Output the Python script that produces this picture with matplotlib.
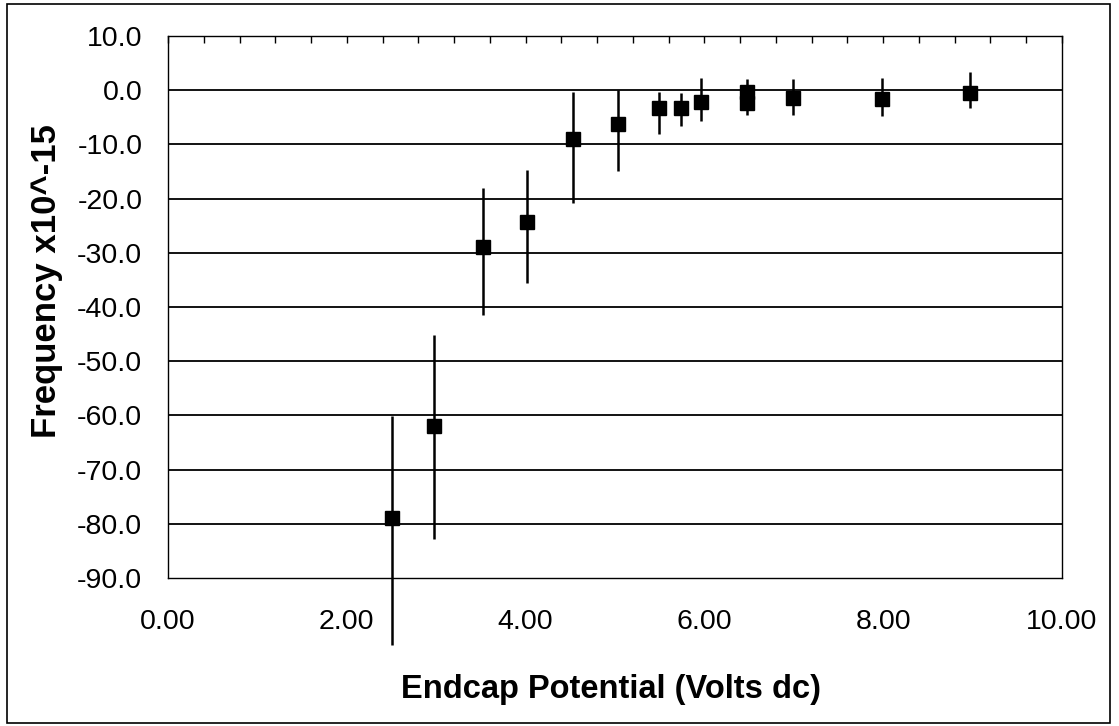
import matplotlib
matplotlib.use("Agg")
import matplotlib.pyplot as plt
from matplotlib.patches import Rectangle
from matplotlib.ticker import MultipleLocator
import numpy as np

plt.rcParams["font.family"] = ["Liberation Sans", "DejaVu Sans"]
plt.rcParams["axes.unicode_minus"] = False

# endcap potential (V dc) and frequency shift (x10^-15)
volts = [2.50, 2.98, 3.52, 4.02, 4.53, 5.03, 5.49, 5.74, 5.96, 6.48, 6.48, 6.99, 7.99, 8.97]
freq = [-79.0, -61.9, -29.0, -24.3, -9.0, -6.2, -3.2, -3.3, -2.1, -0.3, -2.4, -1.4, -1.6, -0.6]
# error bar ends
freq_hi = [-60.1, -45.2, -18.0, -14.7, -0.3, 0.0, -0.3, -0.5, 2.2, 2.1, -0.2, 2.0, 2.2, 3.3]
freq_lo = [-102.4, -82.8, -41.5, -35.5, -20.9, -14.9, -8.1, -6.6, -5.6, -2.7, -4.6, -4.6, -4.7, -3.3]

x_ticks = [0, 2, 4, 6, 8, 10]
x_labels = ["0.00", "2.00", "4.00", "6.00", "8.00", "10.00"]
y_ticks = [10, 0, -10, -20, -30, -40, -50, -60, -70, -80, -90]
y_labels = ["10.0", "0.0", "-10.0", "-20.0", "-30.0", "-40.0", "-50.0",
            "-60.0", "-70.0", "-80.0", "-90.0"]

fig = plt.figure(figsize=(11.19, 7.26), dpi=100)
ax = fig.add_axes([168 / 1119, 1 - 578 / 726, 894 / 1119, 542 / 726])

# outer frame round the whole chart
fig.patches.append(Rectangle((7 / 1119, 3 / 726), 1103 / 1119, 719 / 726,
                             transform=fig.transFigure, fill=False,
                             edgecolor="black", linewidth=1.2))

ax.set_xlim(0, 10)
ax.set_ylim(-90, 10)

for yv in y_ticks[1:-1]:
    ax.axhline(yv, color="black", linewidth=1.3, zorder=1)

y = np.array(freq)
yerr = [y - np.array(freq_lo), np.array(freq_hi) - y]
_, _, bars = ax.errorbar(volts, freq, yerr=yerr, fmt="none", ecolor="black",
                         elinewidth=1.8, capsize=0, zorder=3)
for b in bars:
    b.set_clip_on(False)
ax.plot(volts, freq, linestyle="none", marker="s", markersize=9.5,
        color="black", zorder=4)

ax.set_xticks(x_ticks)
ax.set_xticklabels(x_labels)
ax.set_yticks(y_ticks)
ax.set_yticklabels(y_labels)
ax.xaxis.set_minor_locator(MultipleLocator(0.4))

ax.tick_params(axis="x", which="both", bottom=False, top=True, direction="in",
               length=5, width=1, labelbottom=True, labeltop=False,
               labelsize=20.5, pad=22)
ax.tick_params(axis="y", which="both", left=False, right=False,
               labelsize=20.5, pad=15)

for s in ax.spines.values():
    s.set_linewidth(1.0)

ax.set_xlabel("Endcap Potential (Volts dc)", fontsize=23.5, fontweight="bold")
ax.xaxis.set_label_coords(0.496, -0.178)
ax.set_ylabel("Frequency x10^-15", fontsize=25, fontweight="bold")
ax.yaxis.set_label_coords(-0.118, 0.548)

fig.savefig("out.png", dpi=100)
